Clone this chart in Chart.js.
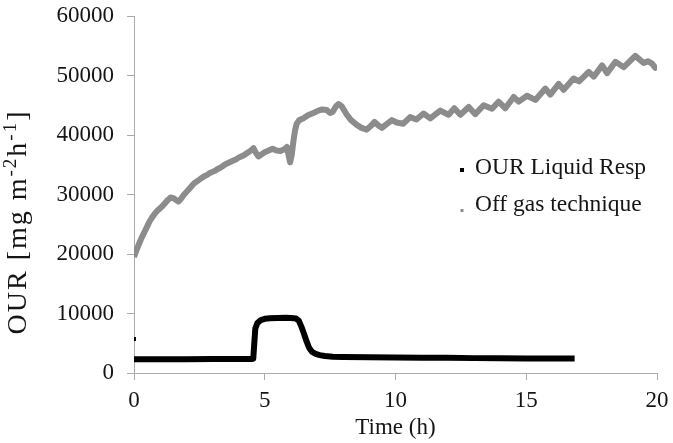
<!DOCTYPE html>
<html>
<head>
<meta charset="utf-8">
<script src="https://cdn.jsdelivr.net/npm/chart.js@4/dist/chart.umd.min.js"></script>
<style>
  html, body { margin: 0; padding: 0; background: #fff; }
  #wrap { width: 673px; height: 443px; }
</style>
</head>
<body>
<div id="wrap"><canvas id="c" width="673" height="443"></canvas></div>
<script>
// Oxygen uptake rate, liquid respirometry trace (h, mg m-2 h-1)
const liquidTime = [0, 1, 2, 3, 4, 4.5, 4.56, 4.6, 4.64, 4.72, 4.85, 5.0, 5.2, 5.5, 5.8, 6.0, 6.2, 6.3, 6.4, 6.5, 6.6, 6.7, 6.8, 6.95, 7.1, 7.3, 7.6, 8, 9, 10, 11, 12, 13, 14, 15, 16, 16.85];
const liquidOUR  = [2300, 2300, 2300, 2350, 2350, 2350, 2400, 5000, 7500, 8400, 8900, 9100, 9200, 9250, 9300, 9250, 9150, 8800, 7800, 6600, 5300, 4200, 3600, 3200, 3000, 2850, 2750, 2700, 2650, 2600, 2550, 2550, 2500, 2500, 2450, 2450, 2450];
// single liquid respirometry reading taken at the start
const liquidStartTime = [0];
const liquidStartOUR  = [5700];

// Oxygen uptake rate from the off gas balance
const offGasTime = [0, 0.1, 0.2, 0.3, 0.4, 0.5, 0.6, 0.7, 0.8, 0.9, 1.0, 1.1, 1.2, 1.3, 1.4, 1.5, 1.6, 1.7, 1.8, 1.9,
  2.0, 2.1, 2.2, 2.3, 2.4, 2.5, 2.6, 2.7, 2.8, 2.9, 3.0, 3.1, 3.2, 3.3, 3.4, 3.5, 3.6, 3.7, 3.8, 3.9,
  4.0, 4.1, 4.2, 4.3, 4.4, 4.5, 4.57, 4.66, 4.76, 4.9, 5.0, 5.15, 5.3, 5.45, 5.6, 5.75, 5.85, 5.92, 5.97, 6.03,
  6.1, 6.16, 6.22, 6.32, 6.48, 6.65, 6.86, 7.05, 7.2, 7.37, 7.5, 7.6, 7.72, 7.82, 7.95, 8.14, 8.3, 8.52, 8.7, 8.9,
  9.05, 9.2, 9.35, 9.48, 9.65, 9.86, 10.05, 10.3, 10.56, 10.8, 11.07, 11.33, 11.71, 12.03, 12.25, 12.48, 12.8, 13.05, 13.37, 13.69,
  13.94, 14.2, 14.52, 14.71, 15.03, 15.35, 15.73, 15.92, 16.24, 16.43, 16.81, 17.02, 17.39, 17.58, 17.9, 18.09, 18.41, 18.73, 19.17, 19.49,
  19.65, 19.81, 19.94, 20.0];
const offGasOUR = [19500, 20700, 21800, 22800, 23700, 24600, 25500, 26200, 26800, 27300, 27700, 28100, 28600, 29100, 29500, 29400, 29100, 28800, 29300, 29900,
  30400, 30900, 31400, 31900, 32200, 32500, 32800, 33100, 33300, 33600, 33800, 34000, 34300, 34500, 34800, 35100, 35300, 35500, 35700, 35900,
  36200, 36400, 36600, 36900, 37200, 37500, 37800, 37000, 36400, 36800, 37100, 37400, 37700, 37400, 37300, 37600, 38000, 36400, 35400, 36600,
  39100, 40800, 41900, 42500, 42800, 43300, 43700, 44100, 44300, 44200, 43700, 43900, 44800, 45200, 44800, 43400, 42500, 41700, 41200, 40900,
  41500, 42200, 41600, 41200, 41800, 42500, 42100, 41900, 43000, 42600, 43600, 42800, 44100, 43400, 44500, 43400, 44700, 43500, 45000, 44400,
  45600, 44500, 46400, 45600, 46600, 45900, 47800, 46800, 48600, 47600, 49500, 49000, 50600, 49800, 51700, 50400, 52300, 51400, 53300, 52100,
  52400, 52000, 51300, 51600];

const xTicks = [0, 5, 10, 15, 20];
const yTicks = [0, 10000, 20000, 30000, 40000, 50000, 60000];

const seriesNames = ['OUR Liquid Resp', 'Off gas technique'];
const LIQUID = '#000000';
const OFFGAS = '#8c8c8c';
const AXIS = '#ababab';
const TEXT = '#151515';
const SERIF = '"Liberation Serif", "Times New Roman", serif';

const pairs = (xs, ys) => xs.map((x, i) => ({ x, y: ys[i] }));

// axis title with superscript exponents, drawn rotated beside the y axis
const yTitlePlugin = {
  id: 'yTitle',
  afterDraw(chart) {
    const ctx = chart.ctx;
    const big = 28, small = 19, spacing = 2;
    const parts = [
      { t: 'OUR [mg m', s: false },
      { t: '-2', s: true },
      { t: 'h', s: false },
      { t: '-1', s: true },
      { t: ']', s: false }
    ];
    ctx.save();
    if ('letterSpacing' in ctx) ctx.letterSpacing = spacing + 'px';
    let total = 0;
    parts.forEach(p => {
      ctx.font = (p.s ? small : big) + 'px ' + SERIF;
      p.w = ctx.measureText(p.t).width;
      total += p.w;
    });
    ctx.translate(19, 222);
    ctx.rotate(-Math.PI / 2);
    ctx.fillStyle = TEXT;
    ctx.textBaseline = 'middle';
    ctx.textAlign = 'left';
    let x = -total / 2;
    parts.forEach(p => {
      ctx.font = (p.s ? small : big) + 'px ' + SERIF;
      ctx.fillText(p.t, x, p.s ? -8 : 0);
      x += p.w;
    });
    ctx.restore();
  }
};

// legend placed inside the plot area, to the right
const innerLegendPlugin = {
  id: 'innerLegend',
  afterDraw(chart) {
    const ctx = chart.ctx;
    const x0 = 462, rows = [168, 205];
    ctx.save();
    ctx.font = '23.5px ' + SERIF;
    ctx.fillStyle = TEXT;
    ctx.textBaseline = 'middle';
    ctx.textAlign = 'left';
    rows.forEach((y, i) => ctx.fillText(seriesNames[i], x0 + 13, y));
    ctx.fillStyle = LIQUID;
    ctx.fillRect(x0 - 2, rows[0], 4, 4);
    ctx.fillStyle = OFFGAS;
    ctx.fillRect(x0 - 1.5, rows[1] + 4, 3, 3);
    ctx.restore();
  }
};

new Chart(document.getElementById('c'), {
  type: 'scatter',
  data: {
    datasets: [
      {
        label: seriesNames[1],
        data: pairs(offGasTime, offGasOUR),
        showLine: true,
        borderColor: OFFGAS,
        backgroundColor: OFFGAS,
        borderWidth: 6,
        borderJoinStyle: 'round',
        pointRadius: 0,
        tension: 0
      },
      {
        label: seriesNames[0],
        data: pairs(liquidTime, liquidOUR),
        showLine: true,
        borderColor: LIQUID,
        backgroundColor: LIQUID,
        borderWidth: 6,
        borderJoinStyle: 'round',
        pointRadius: 0,
        tension: 0
      },
      {
        label: seriesNames[0],
        data: pairs(liquidStartTime, liquidStartOUR),
        showLine: false,
        pointStyle: 'rect',
        pointRadius: 2.8,
        borderWidth: 0,
        backgroundColor: LIQUID,
        borderColor: LIQUID
      }
    ]
  },
  options: {
    responsive: false,
    animation: false,
    devicePixelRatio: 1,
    layout: { padding: { left: 0, right: 16, top: 16, bottom: 0 } },
    plugins: {
      legend: { display: false },
      tooltip: { enabled: false }
    },
    scales: {
      x: {
        type: 'linear',
        min: 0,
        max: 20,
        afterBuildTicks: s => { s.ticks = xTicks.map(v => ({ value: v })); },
        afterFit: s => { s.height = 70; s.paddingLeft = 0; s.paddingRight = 0; },
        ticks: { color: TEXT, font: { family: SERIF, size: 23 }, padding: 7, maxRotation: 0 },
        grid: { drawOnChartArea: false, drawTicks: true, tickLength: 7, color: AXIS },
        border: { display: true, color: AXIS, width: 1 },
        title: { display: true, text: 'Time (h)', color: TEXT, font: { family: SERIF, size: 23 }, padding: { top: 0, bottom: 1 } }
      },
      y: {
        type: 'linear',
        min: 0,
        max: 60000,
        afterBuildTicks: s => { s.ticks = yTicks.map(v => ({ value: v })); },
        afterFit: s => { s.width = 134; s.paddingTop = 0; s.paddingBottom = 0; },
        ticks: { color: TEXT, font: { family: SERIF, size: 23 }, padding: 13, callback: v => String(v) },
        grid: { drawOnChartArea: false, drawTicks: true, tickLength: 7, color: AXIS },
        border: { display: true, color: AXIS, width: 1 }
      }
    }
  },
  plugins: [yTitlePlugin, innerLegendPlugin]
});
</script>
</body>
</html>
